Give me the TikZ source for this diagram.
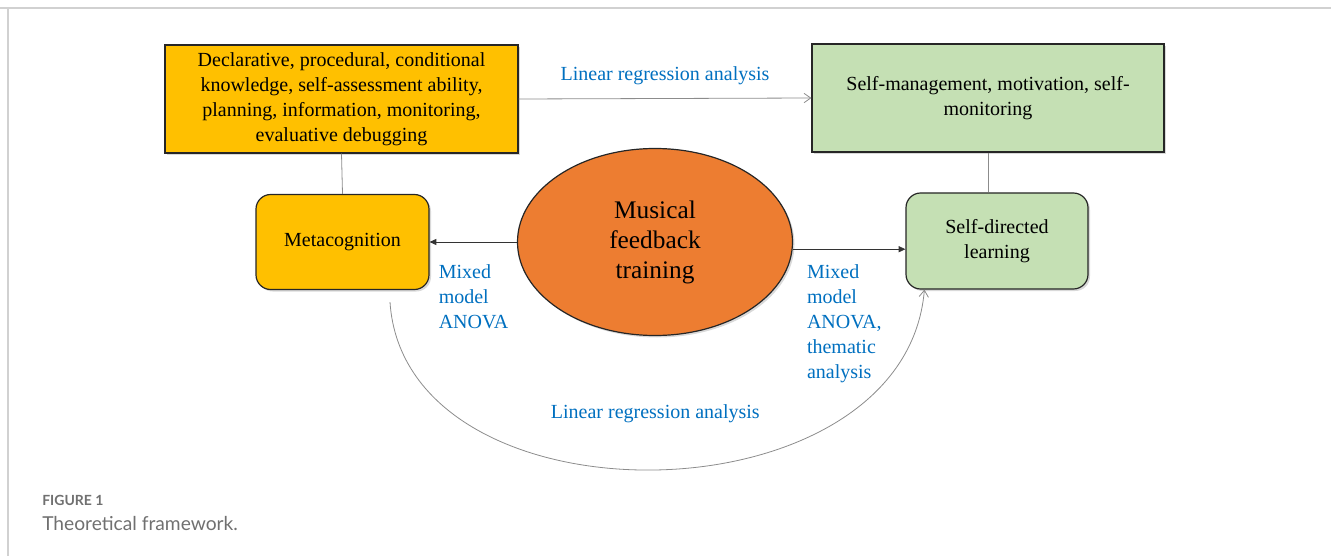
\documentclass[tikz,border=0pt]{standalone}
\usepackage{fontspec}
\setmainfont{Liberation Serif}
\newfontfamily\capfont{Lato}
\usetikzlibrary{shapes.geometric}
\usetikzlibrary{arrows.meta}
\usetikzlibrary{shadows}
\definecolor{gold}{RGB}{255,192,0}
\definecolor{sage}{RGB}{197,224,180}
\definecolor{tangerine}{RGB}{237,125,49}
\definecolor{methodblue}{RGB}{0,112,192}
\definecolor{capgray}{RGB}{112,112,112}
\tikzset{box/.style={draw=black!85,line width=0.9pt,align=center,
		font=\rmfamily\fontsize{15}{18.75}\selectfont,
		drop shadow={shadow xshift=1.5pt,shadow yshift=-1.5pt,opacity=0.3}},
	soft/.style={box,rounded corners=11pt},
	method/.style={text=methodblue,fill=white,align=left,inner sep=2pt,
		font=\rmfamily\fontsize{15}{18.4}\selectfont},
	link/.style={draw=black!45,line width=0.6pt}}

\begin{document}
\begin{tikzpicture}[x=0.75pt,y=-0.75pt]
		\useasboundingbox (0,0) rectangle (1331,556);
		% frame of the figure
		\draw[black!18,line width=1.2pt] (0,8) -- (1331,8);
		\draw[black!18,line width=1.2pt] (8,8) -- (8,556);
		\begin{scope}
			\node[box,fill=gold,minimum width=264.75pt,minimum height=81pt] (K) at (341.5,99)
				{Declarative, procedural, conditional\\knowledge, self-assessment ability,\\planning, information, monitoring,\\evaluative debugging};
			\node[box,fill=sage,minimum width=264pt,minimum height=81pt] (S) at (988,98)
				{Self-management, motivation, self-\\monitoring};
			\node[soft,fill=gold,minimum width=129.75pt,minimum height=71.25pt] (M) at (342.5,242) {Metacognition};
			\node[soft,fill=sage,minimum width=136.5pt,minimum height=72pt] (D) at (997,241) {Self-directed\\learning};
			\node[box,ellipse,fill=tangerine,minimum width=206.25pt,minimum height=140.25pt,
				font=\rmfamily\fontsize{19}{22.5}\selectfont] (F) at (655,242) {Musical\\feedback\\training};
		\end{scope}
		\begin{scope}[every edge/.style={draw,link}]
			\path (K.south) edge (M.north);
			\path (S.south) edge (S.south |- D.north);
			\path [-{Straight Barb[length=5pt,width=7pt]}] (K.east) edge
				node[method,above=8pt] {Linear regression analysis} (S.west);
		\end{scope}
		\begin{scope}[>={Triangle[length=5pt,width=4.5pt]},
			every edge/.style={draw,black!80,line width=0.6pt}]
			\path [->] (F.west) edge node[method,pos=0.93,anchor=north west,yshift=-15pt]
				{Mixed\\model\\ANOVA} (M.east);
			\path [->] (F.-3) edge node[method,pos=0.1,anchor=north west,yshift=-9pt,
				font=\rmfamily\fontsize{15}{18.8}\selectfont]
				{Mixed\\model\\ANOVA,\\thematic\\analysis} (D.west |- F.-3);
		\end{scope}
		\draw[link,-{Straight Barb[length=5pt,width=7pt]}] ([shift={(47.5,12)}]M.south)
			.. controls +(15,229) and +(-20,235) .. ([shift={(19,0)}]D.south west)
			node[method,pos=0.5,yshift=42pt] {Linear regression analysis};
		% caption
		\node[anchor=west,inner sep=0pt,text=capgray,font=\capfont\bfseries\fontsize{10.5}{12}\selectfont] (cap) at (42,500) {FIGURE 1};
		\node[anchor=west,inner sep=0pt,text=capgray,font=\capfont\fontsize{14.4}{17}\selectfont] (title) at (42,524) {Theoretical framework.};
	\end{tikzpicture}
\end{document}
